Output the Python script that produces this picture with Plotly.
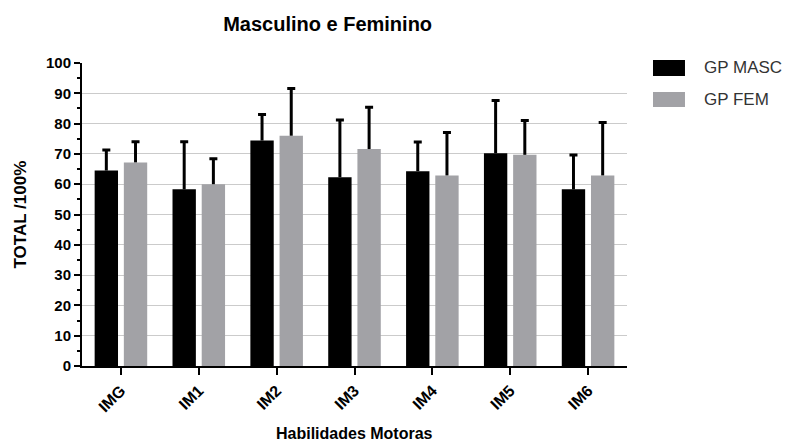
import plotly.graph_objects as go

categories = ["IMG", "IM1", "IM2", "IM3", "IM4", "IM5", "IM6"]
masc_name = "GP MASC"
fem_name = "GP FEM"
masc_values = [64.5, 58.3, 74.4, 62.3, 64.3, 70.2, 58.3]
masc_err = [6.8, 15.7, 8.6, 18.9, 9.6, 17.4, 11.3]
fem_values = [67.2, 60.0, 76.0, 71.6, 62.9, 69.7, 62.9]
fem_err = [6.8, 8.4, 15.6, 13.8, 14.2, 11.3, 17.5]
y_ticks = [0, 10, 20, 30, 40, 50, 60, 70, 80, 90, 100]

FONT = "Liberation Sans, Arial, sans-serif"
BLACK = "#000000"
GREY = "#a2a2a6"
zeros = [0] * len(categories)

fig = go.Figure()


def add_series(name, values, errs, color, group):
    # main bar with upward-only error line (no caps)
    fig.add_trace(go.Bar(
        x=categories, y=values, name=name, offsetgroup=group,
        marker=dict(color=color, line=dict(width=0)),
        error_y=dict(type="data", symmetric=False, array=errs,
                     arrayminus=zeros, color=BLACK, thickness=3, width=0),
        showlegend=False,
    ))
    # invisible bar spanning the error range, used only to draw the top cap
    fig.add_trace(go.Bar(
        x=categories, y=errs, base=values, offsetgroup=group,
        marker=dict(color="rgba(0,0,0,0)", line=dict(width=0)),
        error_y=dict(type="data", symmetric=False, array=zeros,
                     arrayminus=zeros, color=BLACK, thickness=3, width=4),
        showlegend=False, hoverinfo="skip",
    ))


add_series(masc_name, masc_values, masc_err, BLACK, "m")
add_series(fem_name, fem_values, fem_err, GREY, "f")

# legend drawn manually (large swatches like the original)
legend_items = [(masc_name, BLACK, 1.0099, 0.957, 0.9835),
                (fem_name, GREY, 0.904, 0.855, 0.881)]
shapes = []
annotations = []
for name, color, y0, y1, ty in legend_items:
    shapes.append(dict(type="rect", xref="paper", yref="paper",
                       x0=1.0477, x1=1.1064, y0=y1, y1=y0,
                       fillcolor=color, line=dict(width=0)))
    annotations.append(dict(text=name, xref="paper", yref="paper",
                            x=1.1376, y=ty, xanchor="left", yanchor="middle",
                            showarrow=False,
                            font=dict(size=17, family=FONT, color="#333333")))

annotations.append(dict(text="<b>TOTAL /100%</b>", xref="paper", yref="paper",
                        x=-0.112, y=0.5, xanchor="center", yanchor="middle",
                        textangle=-90, showarrow=False,
                        font=dict(size=17, family=FONT, color=BLACK)))
annotations.append(dict(text="<b>Habilidades Motoras</b>", xref="paper", yref="paper",
                        x=0.5, y=-0.222, xanchor="center", yanchor="middle",
                        showarrow=False,
                        font=dict(size=16, family=FONT, color=BLACK)))

fig.update_layout(
    width=803, height=443,
    margin=dict(l=82, r=176, t=63, b=77),
    paper_bgcolor="white", plot_bgcolor="white",
    barmode="group", bargap=0.25, bargroupgap=0.2,
    font=dict(family=FONT, color=BLACK),
    title=dict(text="<b>Masculino e Feminino</b>", x=0.408, xanchor="center",
               y=0.946, yanchor="middle", font=dict(size=20, family=FONT)),
    showlegend=False,
    shapes=shapes,
    annotations=annotations,
)
fig.update_yaxes(
    range=[0, 100], tickvals=y_ticks, showgrid=True, gridcolor="#cbcbcb",
    gridwidth=1.3, showline=True, linecolor=BLACK, linewidth=2,
    ticks="outside", ticklen=6, tickwidth=2, tickcolor=BLACK,
    minor=dict(ticks="outside", dtick=5, ticklen=3, tickwidth=2,
               tickcolor=BLACK, showgrid=False),
    tickfont=dict(size=15, family=FONT, weight="bold"),
    zeroline=False, automargin=False,
)
fig.update_xaxes(
    showline=True, linecolor=BLACK, linewidth=2,
    ticks="outside", ticklen=7, tickwidth=2, tickcolor=BLACK,
    tickangle=-45, tickfont=dict(size=16, family=FONT, weight="bold"),
    automargin=False,
)

fig.write_html("out.html", config={"displayModeBar": False},
               post_script="document.body.style.margin='0';")
